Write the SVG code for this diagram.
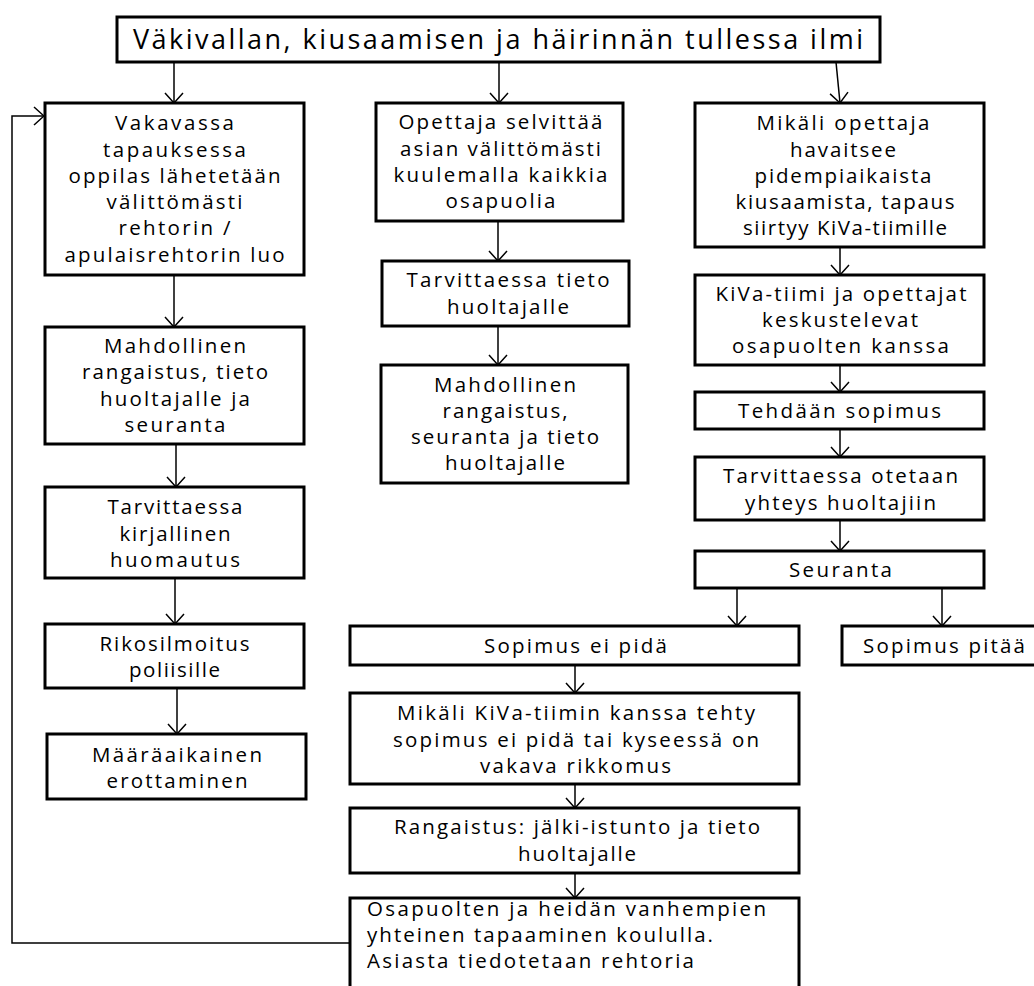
<svg xmlns="http://www.w3.org/2000/svg" width="1034" height="986" viewBox="0 0 1034 986">
<defs>
<style>
.box{fill:#fff;stroke:#000;stroke-width:3}
.t{font-family:"Open Sans","Noto Sans","Liberation Sans",sans-serif;font-size:20.5px;fill:#000;text-anchor:middle}
.tl{text-anchor:start}
.title{font-size:27px}
.c{fill:none;stroke:#000;stroke-width:1.5}
</style>
<marker id="ah" markerUnits="userSpaceOnUse" viewBox="0 0 12 20" markerWidth="12" markerHeight="20" refX="11" refY="10" orient="auto">
<path d="M1,1 L11,10 L1,19" fill="none" stroke="#000" stroke-width="1.5"/>
</marker>
</defs>
<rect width="1034" height="986" fill="#fff"/>
<g id="connectors">
<line class="c" x1="174" y1="62" x2="174" y2="103" marker-end="url(#ah)"/>
<line class="c" x1="499" y1="62" x2="499" y2="103" marker-end="url(#ah)"/>
<line class="c" x1="836" y1="62" x2="840" y2="103" marker-end="url(#ah)"/>
<line class="c" x1="174" y1="275" x2="174" y2="327" marker-end="url(#ah)"/>
<line class="c" x1="176" y1="444" x2="176" y2="487" marker-end="url(#ah)"/>
<line class="c" x1="175" y1="578" x2="175" y2="624" marker-end="url(#ah)"/>
<line class="c" x1="177" y1="688" x2="177" y2="734" marker-end="url(#ah)"/>
<line class="c" x1="498" y1="221" x2="498" y2="261" marker-end="url(#ah)"/>
<line class="c" x1="498" y1="326" x2="498" y2="365" marker-end="url(#ah)"/>
<line class="c" x1="840" y1="247" x2="840" y2="275" marker-end="url(#ah)"/>
<line class="c" x1="840" y1="365" x2="840" y2="392" marker-end="url(#ah)"/>
<line class="c" x1="840" y1="429" x2="840" y2="457" marker-end="url(#ah)"/>
<line class="c" x1="840" y1="520" x2="840" y2="551" marker-end="url(#ah)"/>
<line class="c" x1="737" y1="588" x2="737" y2="626" marker-end="url(#ah)"/>
<line class="c" x1="942" y1="588" x2="942" y2="626" marker-end="url(#ah)"/>
<line class="c" x1="575" y1="665" x2="575" y2="693" marker-end="url(#ah)"/>
<line class="c" x1="575" y1="784" x2="575" y2="808" marker-end="url(#ah)"/>
<line class="c" x1="575" y1="873" x2="575" y2="898" marker-end="url(#ah)"/>
<polyline class="c" points="350,943 12,943 12,116 44,116" marker-end="url(#ah)"/>
</g>
<g id="title">
<rect class="box" x="117" y="17" width="763" height="45"/>
<text class="t title" x="498" y="49" textLength="730">Väkivallan, kiusaamisen ja häirinnän tullessa ilmi</text>
</g>
<g id="left1">
<rect class="box" x="45" y="103" width="259" height="172"/>
<text class="t" x="174.5" y="130" textLength="119">Vakavassa</text>
<text class="t" x="174.5" y="157" textLength="143">tapauksessa</text>
<text class="t" x="174.5" y="183" textLength="212">oppilas lähetetään</text>
<text class="t" x="174.5" y="209" textLength="136">välittömästi</text>
<text class="t" x="174.5" y="235" textLength="112">rehtorin /</text>
<text class="t" x="174.5" y="262" textLength="220">apulaisrehtorin luo</text>
</g>
<g id="left2">
<rect class="box" x="45" y="327" width="259" height="117"/>
<text class="t" x="175" y="353" textLength="142">Mahdollinen</text>
<text class="t" x="175" y="379" textLength="186">rangaistus, tieto</text>
<text class="t" x="175" y="406" textLength="150">huoltajalle ja</text>
<text class="t" x="175" y="432" textLength="101">seuranta</text>
</g>
<g id="left3">
<rect class="box" x="45" y="487" width="259" height="91"/>
<text class="t" x="175" y="514" textLength="135">Tarvittaessa</text>
<text class="t" x="175" y="541" textLength="111">kirjallinen</text>
<text class="t" x="175" y="567" textLength="130">huomautus</text>
</g>
<g id="left4">
<rect class="box" x="45" y="624" width="259" height="64"/>
<text class="t" x="174.5" y="651" textLength="150">Rikosilmoitus</text>
<text class="t" x="174.5" y="677" textLength="91">poliisille</text>
</g>
<g id="left5">
<rect class="box" x="47" y="734" width="259" height="65"/>
<text class="t" x="177" y="762" textLength="170">Määräaikainen</text>
<text class="t" x="177" y="788" textLength="141">erottaminen</text>
</g>
<g id="mid1">
<rect class="box" x="376" y="103" width="247" height="118"/>
<text class="t" x="500.5" y="129" textLength="204">Opettaja selvittää</text>
<text class="t" x="500.5" y="156" textLength="201">asian välittömästi</text>
<text class="t" x="500.5" y="182" textLength="214">kuulemalla kaikkia</text>
<text class="t" x="500.5" y="208" textLength="110">osapuolia</text>
</g>
<g id="mid2">
<rect class="box" x="382" y="261" width="247" height="65"/>
<text class="t" x="508" y="287" textLength="203">Tarvittaessa tieto</text>
<text class="t" x="508" y="314" textLength="122">huoltajalle</text>
</g>
<g id="mid3">
<rect class="box" x="381" y="365" width="247" height="118"/>
<text class="t" x="505" y="392" textLength="142">Mahdollinen</text>
<text class="t" x="505" y="418" textLength="125">rangaistus,</text>
<text class="t" x="505" y="444" textLength="188">seuranta ja tieto</text>
<text class="t" x="505" y="470" textLength="120">huoltajalle</text>
</g>
<g id="right1">
<rect class="box" x="695" y="103" width="289" height="144"/>
<text class="t" x="843" y="130" textLength="173">Mikäli opettaja</text>
<text class="t" x="843" y="157" textLength="106">havaitsee</text>
<text class="t" x="843" y="183" textLength="177">pidempiaikaista</text>
<text class="t" x="845" y="209" textLength="219">kiusaamista, tapaus</text>
<text class="t" x="845" y="235" textLength="204">siirtyy KiVa-tiimille</text>
</g>
<g id="right2">
<rect class="box" x="695" y="275" width="289" height="90"/>
<text class="t" x="841" y="301" textLength="251">KiVa-tiimi ja opettajat</text>
<text class="t" x="840" y="327" textLength="156">keskustelevat</text>
<text class="t" x="840.5" y="353" textLength="217">osapuolten kanssa</text>
</g>
<g id="right3">
<rect class="box" x="695" y="392" width="289" height="37"/>
<text class="t" x="839.5" y="418" textLength="203">Tehdään sopimus</text>
</g>
<g id="right4">
<rect class="box" x="695" y="457" width="289" height="63"/>
<text class="t" x="840.5" y="483" textLength="235">Tarvittaessa otetaan</text>
<text class="t" x="840.5" y="510" textLength="191">yhteys huoltajiin</text>
</g>
<g id="right5">
<rect class="box" x="695" y="551" width="289" height="37"/>
<text class="t" x="840.5" y="577" textLength="103">Seuranta</text>
</g>
<g id="sopimus-ei-pida">
<rect class="box" x="350" y="626" width="449" height="39"/>
<text class="t" x="575.5" y="653" textLength="183">Sopimus ei pidä</text>
</g>
<g id="sopimus-pitaa">
<rect class="box" x="842" y="626" width="220" height="39"/>
<text class="t" x="944" y="653" textLength="162">Sopimus pitää</text>
</g>
<g id="mikali-kiva">
<rect class="box" x="350" y="693" width="449" height="91"/>
<text class="t" x="576" y="720" textLength="358">Mikäli KiVa-tiimin kanssa tehty</text>
<text class="t" x="576" y="747" textLength="366">sopimus ei pidä tai kyseessä on</text>
<text class="t" x="575.5" y="773" textLength="191">vakava rikkomus</text>
</g>
<g id="rangaistus">
<rect class="box" x="350" y="808" width="449" height="65"/>
<text class="t" x="577" y="834" textLength="366">Rangaistus: jälki-istunto ja tieto</text>
<text class="t" x="577" y="861" textLength="118">huoltajalle</text>
</g>
<g id="osapuolten">
<rect class="box" x="350" y="898" width="449" height="100"/>
<text class="t tl" x="367" y="916" textLength="399">Osapuolten ja heidän vanhempien</text>
<text class="t tl" x="367" y="942" textLength="346">yhteinen tapaaminen koululla.</text>
<text class="t tl" x="367" y="968" textLength="327">Asiasta tiedotetaan rehtoria</text>
</g>
</svg>
